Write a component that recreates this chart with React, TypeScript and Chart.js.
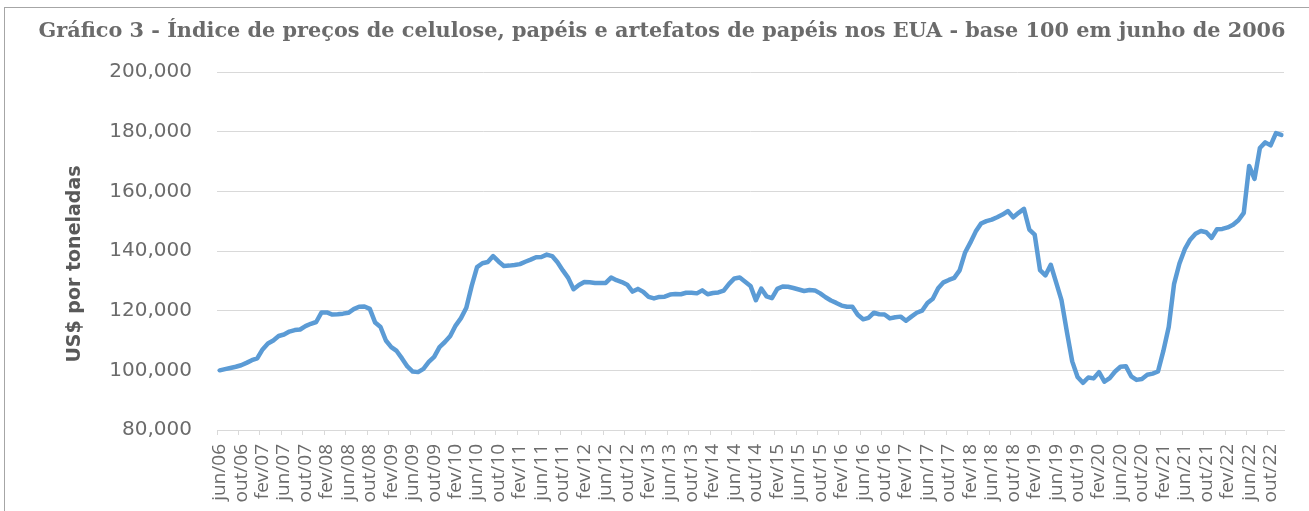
import React, { useEffect, useRef } from "react";
import { Chart, registerables } from "chart.js";

Chart.register(...registerables);

const chartTitle =
  "Gráfico 3 - Índice de preços de celulose, papéis e artefatos de papéis nos EUA - base 100 em junho de 2006";
const yAxisTitle = "US$ por toneladas";

const monthNames = ["jan", "fev", "mar", "abr", "mai", "jun", "jul", "ago", "set", "out", "nov", "dez"];
const startYear = 2006;
const startMonthIndex = 5; // jun

// jun/06 - dez/10
const values2006to2010 = [
  100, 100.4, 100.8, 101.2, 101.7, 102.5, 103.4,
  104, 107, 109, 110, 111.5, 112, 113, 113.5, 113.7, 114.8, 115.6, 116.2,
  119.4, 119.4, 118.7, 118.8, 119, 119.3, 120.5, 121.3, 121.4, 120.6, 116, 114.5,
  110, 107.8, 106.5, 104, 101.3, 99.6, 99.4, 100.5, 102.8, 104.5, 107.8, 109.5,
  111.5, 115, 117.5, 121, 128.3, 134.6, 135.9, 136.3, 138.3, 136.5, 135, 135.1,
];
// jan/11 - dez/14
const values2011to2014 = [
  135.3, 135.6, 136.4, 137.1, 137.9, 138, 138.8, 138.3, 136.2, 133.5, 131, 127.2,
  128.6, 129.6, 129.5, 129.3, 129.3, 129.3, 131.1, 130.2, 129.6, 128.7, 126.4, 127.3,
  126.3, 124.6, 124.1, 124.6, 124.7, 125.4, 125.6, 125.5, 126, 126, 125.8, 126.8,
  125.5, 125.9, 126.1, 126.7, 129, 130.8, 131.1, 129.7, 128.3, 123.5, 127.4, 124.8,
];
// jan/15 - dez/18
const values2015to2018 = [
  124.2, 127.3, 128.1, 128, 127.6, 127.1, 126.6, 126.9, 126.8, 125.8, 124.5, 123.4,
  122.6, 121.7, 121.3, 121.3, 118.6, 117.1, 117.6, 119.3, 118.8, 118.7, 117.4, 117.8,
  118, 116.6, 118, 119.3, 120, 122.6, 124, 127.5, 129.5, 130.3, 131, 133.5,
  139.4, 142.8, 146.5, 149.2, 150, 150.5, 151.3, 152.2, 153.4, 151.3, 152.8, 154.1,
];
// jan/19 - dez/22
const values2019to2022 = [
  147.2, 145.5, 133.6, 131.8, 135.4, 129.5, 123.5, 113, 103, 97.8, 95.8, 97.6,
  97.3, 99.4, 96.2, 97.4, 99.6, 101.2, 101.4, 98, 96.8, 97.1, 98.5, 98.9,
  99.6, 106.5, 114.5, 129, 135.8, 140.6, 143.8, 145.8, 146.7, 146.3, 144.4, 147.3,
  147.4, 147.9, 148.8, 150.3, 152.8, 168.5, 164.2, 174.5, 176.4, 175.4, 179.5, 178.9,
];

const indexValues = [...values2006to2010, ...values2011to2014, ...values2015to2018, ...values2019to2022];

const monthLabels: string[] = indexValues.map((_, i) => {
  const m = (startMonthIndex + i) % 12;
  const y = startYear + Math.floor((startMonthIndex + i) / 12);
  return `${monthNames[m]}/${String(y % 100).padStart(2, "0")}`;
});

const yMin = 80;
const yMax = 200;
const yStep = 20;
const labelEvery = 4;

export default function App() {
  const canvasRef = useRef<HTMLCanvasElement | null>(null);

  useEffect(() => {
    const canvas = canvasRef.current;
    if (!canvas) return;

    const titlesPlugin = {
      id: "customTitles",
      afterDraw(chart: any) {
        const ctx = chart.ctx as CanvasRenderingContext2D;
        ctx.save();
        ctx.fillStyle = "#6b6b6b";
        ctx.font = "bold 20.8px 'DejaVu Serif'";
        ctx.textAlign = "center";
        ctx.textBaseline = "alphabetic";
        ctx.fillText(chartTitle, 662, 37);
        ctx.restore();

        ctx.save();
        ctx.fillStyle = "#595959";
        ctx.font = "bold 19px 'DejaVu Sans'";
        ctx.textAlign = "center";
        ctx.textBaseline = "middle";
        ctx.translate(75, 264);
        ctx.rotate(-Math.PI / 2);
        ctx.fillText(yAxisTitle, 0, 0);
        ctx.restore();
      },
    };

    const chart = new Chart(canvas, {
      type: "line",
      data: {
        labels: monthLabels,
        datasets: [
          {
            label: "Índice",
            data: indexValues,
            borderColor: "#5b9bd5",
            backgroundColor: "#5b9bd5",
            borderWidth: 4.5,
            pointRadius: 0,
            tension: 0,
            borderJoinStyle: "round",
            borderCapStyle: "round",
          },
        ],
      },
      options: {
        responsive: false,
        animation: false,
        devicePixelRatio: 1,
        layout: { padding: { top: 72, right: 25, bottom: 0, left: 0 } },
        plugins: {
          legend: { display: false },
          title: { display: false },
          tooltip: { enabled: false },
        },
        scales: {
          x: {
            type: "category",
            offset: true,
            afterFit: (s: any) => {
              s.height = 81;
              s.paddingLeft = 0;
              s.paddingRight = 0;
            },
            grid: {
              drawOnChartArea: false,
              offset: true,
              tickLength: 5,
              color: (c: any) => (c.index % labelEvery === 0 ? "#d9d9d9" : "rgba(0,0,0,0)"),
            },
            border: { display: true, color: "#d9d9d9" },
            ticks: {
              autoSkip: false,
              maxRotation: 90,
              minRotation: 90,
              padding: 9,
              color: "#6b6b6b",
              font: { family: "'Open Sans'", size: 19 },
              callback: (_v: any, i: number) => (i % labelEvery === 0 ? monthLabels[i] : ""),
            },
          },
          y: {
            min: yMin,
            max: yMax,
            afterFit: (s: any) => {
              s.width = 217;
              s.paddingTop = 0;
              s.paddingBottom = 0;
            },
            grid: { color: "#d9d9d9", drawTicks: false, lineWidth: 1 },
            border: { display: false },
            ticks: {
              stepSize: yStep,
              padding: 25,
              color: "#6b6b6b",
              font: { family: "'DejaVu Sans'", size: 20 },
              callback: (v: any) => Number(v).toFixed(3).replace(".", ","),
            },
          },
        },
      },
      plugins: [titlesPlugin],
    });

    return () => chart.destroy();
  }, []);

  return (
    <div
      style={{
        position: "fixed",
        left: 0,
        top: 0,
        width: 1309,
        height: 511,
        overflow: "hidden",
        background: "#ffffff",
      }}
    >
      <canvas ref={canvasRef} width={1309} height={511} style={{ position: "absolute", left: 0, top: 0 }} />
      <div
        style={{
          position: "absolute",
          left: 4,
          top: 7,
          width: 1320,
          height: 520,
          border: "1px solid #a6a6a6",
          boxSizing: "border-box",
          pointerEvents: "none",
        }}
      />
    </div>
  );
}
